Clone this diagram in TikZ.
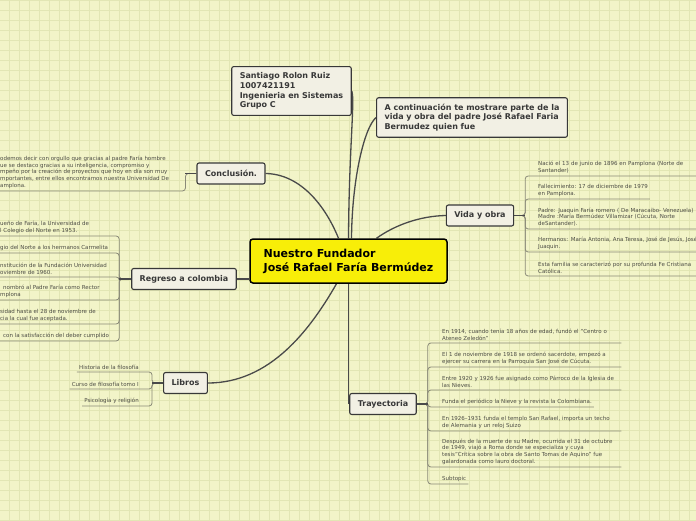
\documentclass[tikz,border=0pt]{standalone}
\usepackage{fontspec}
\setmainfont{DejaVu Sans}
\definecolor{Sheet}{HTML}{F2F4C8}
\definecolor{GridLine}{HTML}{E2E6B4}
\definecolor{Ink}{HTML}{383838}
\definecolor{Card}{HTML}{F2F0E4}
\definecolor{Sun}{HTML}{F8EE08}
\definecolor{Wire}{HTML}{4A4A4A}
\definecolor{Twig}{HTML}{8A8A78}
\definecolor{Leaf}{HTML}{4D4D45}
\newcommand\leaffont{\fontsize{5.5}{6.6}\selectfont}
\newcommand\branchfont{\fontsize{8}{9.7}\selectfont\bfseries}
\newcommand\hubfont{\fontsize{11}{14}\selectfont\bfseries}
\pgfdeclarelayer{paper}
\pgfdeclarelayer{wires}
\pgfsetlayers{paper,wires,main}
\begin{document}
\begin{tikzpicture}[x=1pt,y=-1pt,
    rootbox/.style={draw=black,line width=1.5pt,fill=Sun,rounded corners=3pt,
      minimum width=197pt,minimum height=44pt,inner xsep=11pt,align=left,font=\hubfont},
    topic/.style={draw=Ink,line width=1.1pt,fill=Card,rounded corners=2pt,
      minimum height=21pt,inner xsep=8pt,align=left,font=\branchfont,text=Ink},
    leaf/.style={font=\leaffont,text=Leaf,align=left,inner xsep=2pt,inner ysep=2.5pt},
    link/.style={draw=Wire,line width=1.3pt},
    twig/.style={draw=Twig,line width=0.8pt,rounded corners=3pt}
  ]
  \useasboundingbox (0,0) rectangle (696,520);
  \begin{pgfonlayer}{paper}
    \fill[Sheet] (0,0) rectangle (696,520);
    \foreach \x in {9,19,...,689} \draw[GridLine,line width=0.6pt] (\x,0) -- (\x,520);
    \foreach \y in {0,10,...,520} \draw[GridLine,line width=0.6pt] (0,\y) -- (696,\y);
  \end{pgfonlayer}

  \node[rootbox] (root) at (348.5,261) {Nuestro Fundador\\José Rafael Faría Bermúdez};
  \node[topic,inner ysep=6pt] (sant) at (291.5,91) {Santiago Rolon Ruiz\\1007421191\\Ingenieria en Sistemas\\Grupo C};
  \node[topic,inner ysep=6pt] (cont) at (472,117.5) {A continuación te mostrare parte de la\\vida y obra del padre José Rafael Faria\\Bermudez quien fue};
  \node[topic] (concl) at (231,173.5) {Conclusión.};
  \node[topic] (vida) at (480,215.5) {Vida y obra};
  \node[topic] (reg) at (184,279) {Regreso a colombia};
  \node[topic] (libros) at (185.5,383) {Libros};
  \node[topic] (tray) at (383,404) {Trayectoria};

  \node[leaf,anchor=south west] (c1) at (-2,191) {odemos decir con orgullo que gracias al padre Faría hombre\\ue se destaco gracias a su inteligencia, compromiso y\\mpeño por la creación de proyectos que hoy en día son muy\\mportantes, entre ellos encontramos nuestra Universidad De\\amplona.};

  \node[leaf,anchor=south west,text width=177pt] (v1) at (536,176) {Nació el 13 de junio de 1896 en Pamplona (Norte de\\Santander)};
  \node[leaf,anchor=south west] (v2) at (536,199) {Fallecimiento: 17 de diciembre de 1979\\en Pamplona.};
  \node[leaf,anchor=south west,text width=177pt] (v3) at (536,229) {Padre: Juaquin Faría romero ( De Maracaibo- Venezuela)\\Madre :María Bermúdez Villamizar (Cúcuta, Norte\\deSantander).};
  \node[leaf,anchor=south west,text width=177pt] (v4) at (536,252) {Hermanos: María Antonia, Ana Teresa, José de Jesús, José\\Juaquin.};
  \node[leaf,anchor=south west,text width=177pt] (v5) at (536,276) {Esta familia se caracterizó por su profunda Fe Cristiana\\Católica.};

  \node[leaf,anchor=south west] (r1) at (-2,236) {ueño de Faría, la Universidad de\\l Colegio del Norte en 1953.};
  \node[leaf,anchor=south west] (r2) at (-2,253) {gio del Norte a los hermanos Carmelita};
  \node[leaf,anchor=south west] (r3) at (-2,277) {nstitución de la Fundación Universidad\\oviembre de 1960.};
  \node[leaf,anchor=south west] (r4) at (-2,300) {\hspace*{3pt}nombró al Padre Faría como Rector\\mplona};
  \node[leaf,anchor=south west] (r5) at (-2,324) {sidad hasta el 28 de noviembre de\\cia la cual fue aceptada.};
  \node[leaf,anchor=south west] (r6) at (-2,341) {\hspace*{3pt}con la satisfacción del deber cumplido};

  \node[leaf,anchor=south east] (l1) at (141,372) {Historia de la filosofía};
  \node[leaf,anchor=south east] (l2) at (141,389) {Curso de filosofía tomo I};
  \node[leaf,anchor=south east] (l3) at (141,406) {Psicología y religión};

  \node[leaf,anchor=south west,text width=177pt] (t1) at (440,343) {En 1914, cuando tenía 18 años de edad, fundó el "Centro o\\Ateneo Zeledón"};
  \node[leaf,anchor=south west,text width=177pt] (t2) at (440,367) {El 1 de noviembre de 1918 se ordenó sacerdote, empezó a\\ejercer su carrera en la Parroquia San José de Cúcuta.};
  \node[leaf,anchor=south west,text width=177pt] (t3) at (440,390) {Entre 1920 y 1926 fue asignado como Párroco de la Iglesia de\\las Nieves.};
  \node[leaf,anchor=south west] (t4) at (440,407) {Funda el periódico la Nieve y la revista la Colombiana.};
  \node[leaf,anchor=south west,text width=177pt] (t5) at (440,431) {En 1926–1931 funda el templo San Rafael, importa un techo\\de Alemania y un reloj Suizo};
  \node[leaf,anchor=south west,text width=177pt] (t6) at (440,467) {Después de la muerte de su Madre, ocurrida el 31 de octubre\\de 1949, viajó a Roma donde se especializa y cuya\\tesis"Crítica sobre la obra de Santo Tomas de Aquino" fue\\galardonada como lauro doctoral.};
  \node[leaf,anchor=south west] (t7) at (440,484) {Subtopic};

  \begin{pgfonlayer}{wires}
    \draw[link] (root.north) .. controls (349,150) and (355,100) .. (sant.east);
    \draw[link] ([xshift=3pt]root.north) .. controls (352,180) and (364,128) .. (cont.west);
    \draw[link] ([xshift=-10pt]root.north) .. controls (325,205) and (300,174) .. (concl.east);
    \draw[link] ([xshift=28pt]root.north) .. controls (395,225) and (420,216) .. (vida.west);
    \draw[link] (reg.east) -- (reg.east -| root.west);
    \draw[link] (libros.east) .. controls (270,383) and (310,330) .. ([xshift=-12pt]root.south);
    \draw[link] (root.south) -- (root.south |- tray.west);

    \draw[twig] (concl.west) -- ++(-11,0) |- (c1.south west);
    \foreach \n in {v1,v2,v3,v4,v5}
      \draw[twig] (vida.east) -- ++(11,0) |- (\n.south east);
    \foreach \n in {r1,r2,r3,r4,r5,r6}
      \draw[twig] (reg.west) -- ++(-12,0) |- (\n.south west);
    \foreach \n in {l1,l2,l3}
      \draw[twig] (libros.west) -- ++(-11,0) |- (\n.south west);
    \foreach \n in {t1,t2,t3,t4,t5,t6,t7}
      \draw[twig] (tray.east) -- ++(11,0) |- (\n.south east);

    \draw[link] (concl.west) -- ++(-11,0);
    \draw[link] (vida.east) -- ++(11,0);
    \draw[link] (reg.west) -- ++(-12,0);
    \draw[link] (libros.west) -- ++(-11,0);
    \draw[link] (tray.east) -- ++(11,0);
  \end{pgfonlayer}
\end{tikzpicture}
\end{document}
